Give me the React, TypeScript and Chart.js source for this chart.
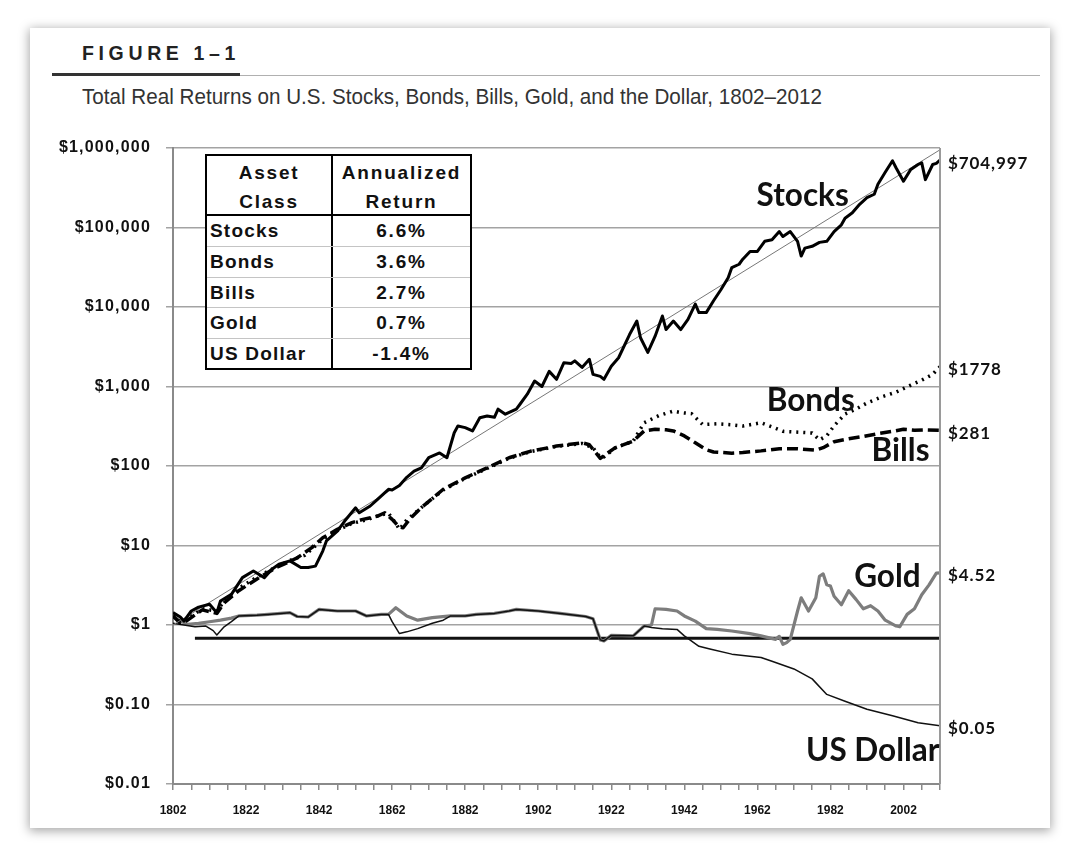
import React, { useEffect, useLayoutEffect, useRef } from 'react';
import { Chart, registerables } from 'chart.js';
Chart.register(...registerables);

// ---------- DATA ----------
const stocksYears = [1802,1804,1805,1807,1809,1812,1814,1815,1818,1821,1824,1827,1829,1831,1834,1837,1839,1841,1843,1844,1847,1849,1852,1853,1856,1858,1861,1862,1864,1866,1868,1870,1872,1875,1877,1879,1880,1882,1884,1886,1888,1890,1891,1893,1896,1897,1899,1901,1903,1905,1907,1909,1911,1912,1914,1916,1917,1919,1920,1922,1924,1927,1929,1930,1932,1934,1936,1937,1939,1941,1943,1945,1946,1948,1950,1952,1954,1955,1957,1958,1960,1962,1964,1966,1968,1969,1971,1973,1974,1975,1977,1979,1981,1983,1985,1986,1988,1990,1992,1994,1995,1997,1999,2000,2002,2004,2006,2007,2008,2010,2011,2012];
const stocksValues = [1.43,1.26,1.12,1.5,1.68,1.82,1.43,2.0,2.43,3.94,4.77,3.94,5.0,5.8,6.4,5.3,5.3,5.5,8.5,11.4,15.2,20.3,29.8,25.8,31.4,38,50.9,50,57,72,86,95,127,146,127,262,318,304,276,404,425,410,519,448,519,598,801,1172,1000,1550,1230,1985,1950,2100,1735,2200,1420,1340,1230,1800,2300,4500,6650,4100,2690,4300,7700,5200,6650,5200,7000,10900,8500,8500,12000,16500,23300,31300,34500,39900,50000,50000,67000,70000,89000,77000,89000,67000,43700,55000,58000,65000,67000,89000,108000,131000,153000,196000,237000,262000,350000,495000,690000,560000,382000,538000,620000,650000,400000,620000,640000,704997];

const bondsYears = [1802,1804,1806,1810,1814,1816,1820,1825,1830,1835,1838,1840,1843,1847,1851,1855,1858,1861,1863,1864,1866,1870,1876,1882,1888,1894,1900,1907,1914,1917,1919,1920,1923,1928,1931,1935,1939,1941,1944,1947,1951,1955,1958,1963,1966,1969,1974,1977,1979,1981,1983,1986,1989,1992,1996,2000,2004,2007,2010,2011,2012];
const bondsValues = [1.3,1.1,1.2,1.6,1.5,2.0,2.9,4.0,5.3,6.8,7.5,9.0,12.0,15.5,19.0,21.0,23.5,25.5,19,16,21,30,50,70,93,125,152,176,192,170,128,130,168,205,350,430,490,470,455,333,340,330,318,350,310,273,265,260,213,240,320,450,520,620,740,850,1040,1200,1420,1600,1778];

const billsYears = [1802,1804,1806,1810,1814,1816,1820,1825,1830,1833,1836,1840,1843,1847,1851,1854,1858,1860,1862,1864,1865,1867,1870,1876,1882,1888,1894,1900,1907,1914,1916,1919,1920,1923,1928,1931,1934,1937,1939,1942,1945,1948,1950,1955,1958,1963,1968,1973,1978,1980,1983,1987,1991,1995,1999,2002,2005,2008,2012];
const billsValues = [1.3,1.05,1.15,1.55,1.4,1.9,2.7,3.8,5.2,6.0,7.0,9.4,12.5,16,19.4,21.3,23.4,25.8,21.3,17,16.7,22,30,51,71,95,127,154,178,196,185,125,135,169,206,276,290,285,276,239,196,160,150,145,148,155,165,165,158,170,202,220,235,255,273,290,282,285,281];

const goldYears = [1802,1804,1806,1809,1812,1815,1818,1820,1825,1828,1834,1836,1839,1842,1847,1852,1855,1859,1861,1863,1866,1869,1873,1878,1882,1885,1890,1894,1896,1902,1908,1915,1917,1919,1920,1922,1928,1931,1933,1934,1937,1940,1942,1945,1948,1951,1955,1960,1963,1967,1968,1969,1970,1971,1973,1974,1976,1978,1979,1980,1981,1982,1983,1985,1987,1989,1991,1993,1995,1997,2000,2001,2003,2005,2007,2009,2011,2012];
const goldValues = [1.3,1.12,1.02,1.05,1.1,1.15,1.22,1.3,1.33,1.36,1.43,1.28,1.26,1.57,1.5,1.5,1.3,1.36,1.36,1.65,1.3,1.15,1.24,1.3,1.3,1.36,1.4,1.5,1.57,1.5,1.4,1.28,1.2,0.65,0.63,0.74,0.73,0.97,1.0,1.6,1.57,1.5,1.3,1.12,0.9,0.88,0.84,0.78,0.73,0.66,0.72,0.57,0.6,0.66,1.5,2.2,1.5,2.2,4.1,4.4,3.2,3.1,2.3,1.8,2.7,2.1,1.6,1.75,1.5,1.15,0.97,0.95,1.36,1.6,2.4,3.2,4.5,4.52];

const dollarYears = [1802,1805,1808,1811,1813,1814,1816,1818,1820,1825,1828,1834,1836,1839,1842,1847,1852,1855,1859,1861,1862,1864,1866,1869,1873,1876,1878,1882,1885,1890,1894,1896,1902,1908,1915,1917,1919,1920,1922,1928,1931,1933,1936,1940,1942,1946,1949,1955,1963,1966,1972,1977,1981,1986,1992,1999,2006,2012];
const dollarValues = [1.05,1.0,0.95,0.97,0.85,0.75,0.95,1.1,1.3,1.33,1.36,1.43,1.28,1.26,1.57,1.5,1.5,1.3,1.36,1.36,1.1,0.78,0.82,0.9,1.05,1.15,1.3,1.3,1.36,1.4,1.5,1.57,1.5,1.4,1.28,1.2,0.65,0.63,0.74,0.73,0.97,0.93,0.9,0.88,0.73,0.54,0.5,0.43,0.39,0.35,0.28,0.21,0.134,0.11,0.087,0.072,0.059,0.054];

const trendYears = [1802, 2012];
const trendValues = [1, 950000];
const baselineYears = [1808, 2012];
const baselineValues = [0.68, 0.68];

const yTickValues = [0.01, 0.1, 1, 10, 100, 1000, 10000, 100000, 1000000];
const yTickLabels = ['$0.01', '$0.10', '$1', '$10', '$100', '$1,000', '$10,000', '$100,000', '$1,000,000'];
const xLabelYears = [1802, 1822, 1842, 1862, 1882, 1902, 1922, 1942, 1962, 1982, 2002];

const endLabels = ['$704,997', '$1778', '$281', '$4.52', '$0.05'];
const seriesNames = ['Stocks', 'Bonds', 'Bills', 'Gold', 'US Dollar'];
const seriesNameYears = [1974.4, 1976.6, 2001.2, 1997.6, 1993.6];
const seriesNameValues = [249000, 657, 154, 4.02, 0.026];

const tableAssets = ['Stocks', 'Bonds', 'Bills', 'Gold', 'US Dollar'];
const tableReturns = ['6.6%', '3.6%', '2.7%', '0.7%', '-1.4%'];

const figureTitle = 'FIGURE 1–1';
const subtitle = 'Total Real Returns on U.S. Stocks, Bonds, Bills, Gold, and the Dollar, 1802–2012';

// ---------- helpers ----------
const toXY = (xs: number[], ys: number[]) => xs.map((x, i) => ({ x, y: ys[i] }));

function FitText({ text, width, style }: { text: string; width: number; style: React.CSSProperties }) {
  const ref = useRef<HTMLSpanElement>(null);
  useLayoutEffect(() => {
    const el = ref.current;
    if (!el) return;
    el.style.transform = 'none';
    const w = el.getBoundingClientRect().width;
    if (w > 0) el.style.transform = `scaleX(${width / w})`;
  }, [text, width]);
  return (
    <span ref={ref} style={{ display: 'inline-block', whiteSpace: 'nowrap', transformOrigin: 'left top', ...style }}>
      {text}
    </span>
  );
}

const labelsPlugin = {
  id: 'seriesLabels',
  afterDatasetsDraw(chart: any) {
    const { ctx, chartArea, scales } = chart;
    const x = scales.x;
    const y = scales.y;
    ctx.save();
    // right border of the plot
    ctx.strokeStyle = '#9a9a9a';
    ctx.lineWidth = 2;
    ctx.beginPath();
    ctx.moveTo(chartArea.right, chartArea.top);
    ctx.lineTo(chartArea.right, chartArea.bottom);
    ctx.stroke();

    // y tick labels
    ctx.fillStyle = '#111';
    ctx.font = 'bold 16px "Liberation Sans"';
    (ctx as any).letterSpacing = '1.2px';
    ctx.textAlign = 'right';
    ctx.textBaseline = 'middle';
    yTickValues.forEach((v, i) => {
      ctx.fillText(yTickLabels[i], chartArea.left - 22, y.getPixelForValue(v));
    });

    const ends = [stocksValues, bondsValues, billsValues, goldValues, dollarValues];
    ctx.font = 'bold 17px Lato';
    (ctx as any).letterSpacing = '0.9px';
    ctx.textAlign = 'left';
    ends.forEach((vals, i) => {
      const v = vals[vals.length - 1];
      ctx.fillText(endLabels[i], chartArea.right + 8, y.getPixelForValue(v) + 3);
    });

    (ctx as any).letterSpacing = '0px';
    ctx.font = 'bold 31.5px Lato';
    ctx.textAlign = 'center';
    seriesNames.forEach((name, i) => {
      ctx.fillText(name, x.getPixelForValue(seriesNameYears[i]), y.getPixelForValue(seriesNameValues[i]));
    });
    ctx.restore();
  },
};

function ChartCanvas() {
  const ref = useRef<HTMLCanvasElement>(null);
  useEffect(() => {
    if (!ref.current) return;
    const chart = new Chart(ref.current, {
      type: 'line',
      data: {
        datasets: [
          { label: 'Stocks', data: toXY(stocksYears, stocksValues), borderColor: '#000', borderWidth: 3, order: 0 },
          { label: 'Trend', data: toXY(trendYears, trendValues), borderColor: '#777', borderWidth: 1, order: 1 },
          { label: 'Bonds', data: toXY(bondsYears, bondsValues), borderColor: '#000', borderWidth: 3.5, borderDash: [2, 5], order: 2 },
          { label: 'Bills', data: toXY(billsYears, billsValues), borderColor: '#000', borderWidth: 3.5, borderDash: [11, 5], order: 3 },
          { label: 'Dollar', data: toXY(dollarYears, dollarValues), borderColor: '#111', borderWidth: 1.5, order: 4 },
          { label: 'Gold', data: toXY(goldYears, goldValues), borderColor: '#7d7d7d', borderWidth: 3.2, order: 5 },
          { label: 'Baseline', data: toXY(baselineYears, baselineValues), borderColor: '#111', borderWidth: 3, order: 6 },
        ] as any,
      },
      options: {
        animation: false,
        responsive: false,
        maintainAspectRatio: false,
        events: [],
        elements: { point: { radius: 0 }, line: { tension: 0, fill: false, borderJoinStyle: 'round' } },
        layout: { padding: { left: 0, right: 110, top: 120, bottom: 0 } },
        plugins: { legend: { display: false }, tooltip: { enabled: false }, title: { display: false } },
        scales: {
          x: {
            type: 'linear',
            min: 1802,
            max: 2012,
            afterFit: (s: any) => { s.height = 44; },
            afterBuildTicks: (s: any) => {
              const t = [];
              for (let v = 1802; v <= 2012; v += 5) t.push({ value: v });
              s.ticks = t;
            },
            ticks: {
              autoSkip: false,
              maxRotation: 0,
              padding: 13,
              color: '#111',
              font: { family: 'Liberation Sans', weight: 'bold', size: 12 },
              callback: (v: any) => (xLabelYears.includes(Number(v)) ? String(v) : ''),
            },
            grid: { drawOnChartArea: false, drawTicks: true, tickLength: 6, color: '#8a8a8a', lineWidth: 1.5 },
            border: { display: true, color: '#8a8a8a', width: 2 },
          },
          y: {
            type: 'logarithmic',
            min: 0.01,
            max: 1000000,
            afterFit: (s: any) => { s.width = 143; },
            afterBuildTicks: (s: any) => {
              s.ticks = yTickValues.map((v) => ({ value: v }));
            },
            ticks: { display: false },
            grid: { color: '#a3a3a3', lineWidth: 1.5, tickLength: 7, drawTicks: true },
            border: { display: true, color: '#8a8a8a', width: 2 },
          },
        },
      } as any,
      plugins: [labelsPlugin],
    });
    return () => chart.destroy();
  }, []);
  return <canvas ref={ref} width={1020} height={800} style={{ position: 'absolute', left: 0, top: 0, width: 1020, height: 800 }} />;
}

function SummaryTable() {
  const border = '2px solid #000';
  return (
    <div
      style={{
        position: 'absolute', left: 175, top: 126, width: 267, height: 216, boxSizing: 'border-box',
        border, background: '#fff', fontFamily: 'Liberation Sans, Arial, sans-serif', fontWeight: 'bold',
        fontSize: 19, letterSpacing: 1.8, color: '#111',
      }}
    >
      <div style={{ display: 'flex', height: 60, borderBottom: border, boxSizing: 'border-box' }}>
        <div style={{ width: 126, borderRight: border, textAlign: 'center', lineHeight: '29px', paddingTop: 2, boxSizing: 'border-box' }}>
          Asset<br />Class
        </div>
        <div style={{ flex: 1, textAlign: 'center', lineHeight: '29px', paddingTop: 2 }}>
          Annualized<br />Return
        </div>
      </div>
      {tableAssets.map((a, i) => (
        <div key={a} style={{ display: 'flex', height: 30.4, borderTop: i ? '1px solid #c4c4c4' : 'none', boxSizing: 'border-box' }}>
          <div style={{ width: 126, borderRight: border, paddingLeft: 3, lineHeight: '29px', boxSizing: 'border-box', letterSpacing: 1.2 }}>{a}</div>
          <div style={{ flex: 1, textAlign: 'center', lineHeight: '29px' }}>{tableReturns[i]}</div>
        </div>
      ))}
    </div>
  );
}

export default function App() {
  return (
    <div style={{ position: 'absolute', left: 0, top: 0, width: 1080, height: 854, background: '#fff', overflow: 'hidden' }}>
      <div
        style={{
          position: 'absolute', left: 30, top: 28, width: 1020, height: 800, background: '#fff',
          boxShadow: '0 2px 10px 1px rgba(0,0,0,0.35)',
        }}
      >
        <div style={{ position: 'absolute', left: 52, top: 14, lineHeight: 1 }}>
          <FitText text={figureTitle} width={158} style={{ fontFamily: 'Liberation Sans', fontWeight: 'bold', fontSize: 21, letterSpacing: 5, color: '#222' }} />
        </div>
        <div style={{ position: 'absolute', left: 22, top: 45, width: 188, height: 3, background: '#333' }} />
        <div style={{ position: 'absolute', left: 210, top: 47, width: 800, height: 1, background: '#b0b0b0' }} />
        <div style={{ position: 'absolute', left: 52, top: 58, lineHeight: 1 }}>
          <FitText text={subtitle} width={740} style={{ fontFamily: 'Liberation Sans', fontSize: 22.5, color: '#333' }} />
        </div>
        <ChartCanvas />
        <SummaryTable />
      </div>
    </div>
  );
}
